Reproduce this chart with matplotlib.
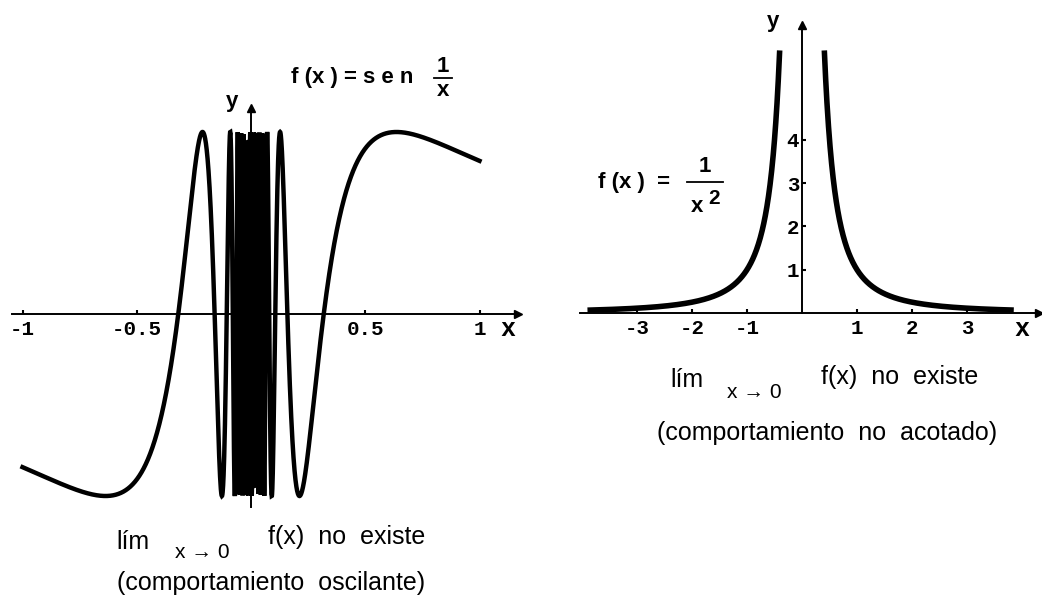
import numpy as np
import matplotlib.pyplot as plt
from matplotlib.lines import Line2D

W, H = 1042, 600

# --- datos ---
# f(x) = sen(1/x)
sen_dominio = [-1.0, 1.0]
sen_xticks = [-1, -0.5, 0.5, 1]
sen_xticklabels = ['-1', '-0.5', '0.5', '1']

# f(x) = 1/x^2
inv_dominio = [-3.85, 3.8]
inv_tope = 6.0
inv_xticks = [-3, -2, -1, 1, 2, 3]
inv_xticklabels = ['-3', '-2', '-1', '1', '2', '3']
inv_yticks = [1, 2, 3, 4]
inv_yticklabels = ['1', '2', '3', '4']

plt.rcParams['font.family'] = ['Liberation Sans', 'DejaVu Sans']

fig = plt.figure(figsize=(W / 100, H / 100), dpi=100)
fig.patch.set_facecolor('white')


def ejes(px0, px1, x0px, xscale, y0px, yscale):
    # ejes que ocupan las columnas px0..px1, con el origen en el pixel (x0px, y0px)
    ax = fig.add_axes([px0 / W, 0, (px1 - px0) / W, 1])
    ax.set_xlim((px0 - x0px) / xscale, (px1 - x0px) / xscale)
    ax.set_ylim((y0px - H) / yscale, y0px / yscale)
    ax.patch.set_alpha(0)
    for s in ['top', 'right']:
        ax.spines[s].set_visible(False)
    ax.spines['bottom'].set_position(('data', 0))
    ax.spines['left'].set_position(('data', 0))
    ax.spines['bottom'].set_linewidth(1.4)
    ax.spines['left'].set_linewidth(1.4)
    ax.tick_params(direction='in', length=3, width=1.5, colors='black')
    return ax


def T(px, py, s, size, **kw):
    fig.text(px / W, 1 - py / H, s, ha='center', va='center', fontsize=size, **kw)


def raya(px0, px1, py, lw=1.3):
    fig.add_artist(Line2D([px0 / W, px1 / W], [1 - py / H, 1 - py / H],
                          color='black', lw=lw, transform=fig.transFigure))


mono = dict(family='Liberation Mono', weight='bold')

# ---------------- sen(1/x) ----------------
ax1 = ejes(0, 525, 251, 228.5, 314, 182)
x = np.linspace(sen_dominio[0], sen_dominio[1], 3001)
x = x[x != 0]
ax1.plot(x, np.sin(1 / x), color='black', lw=3.2, solid_joinstyle='miter')

ax1.spines['bottom'].set_bounds(-1.046, 1.16)
ax1.spines['left'].set_bounds(-1.06, 1.11)
ax1.plot(1.17, 0, marker='>', color='black', ms=6, clip_on=False)
ax1.plot(0, 1.13, marker='^', color='black', ms=6, clip_on=False)
ax1.set_xticks(sen_xticks)
ax1.set_xticklabels(sen_xticklabels, fontsize=15, **mono)
ax1.tick_params(axis='x', pad=4)
ax1.set_yticks([])

T(508, 329, 'x', 18, **mono)
T(232, 101, 'y', 16, weight='bold')
T(352, 77, 'f (x ) = s e n', 16, weight='bold')
T(443, 66, '1', 16, weight='bold')
T(443, 90, 'x', 16, weight='bold')
raya(434, 452, 78)

T(133, 542, 'lím', 18)
T(202, 552, 'x → 0', 15)
T(347, 537, 'f(x)  no  existe', 18)
T(271, 583, '(comportamiento  oscilante)', 18)

# ---------------- 1/x^2 ----------------
ax2 = ejes(545, W, 802, 55, 313, 43.3)
xmin = 1 / np.sqrt(inv_tope)
xi = np.linspace(inv_dominio[0], -xmin, 600)
xd = np.linspace(xmin, inv_dominio[1], 600)
ax2.plot(xi, 1 / xi ** 2, color='black', lw=4.0)
ax2.plot(xd, 1 / xd ** 2, color='black', lw=4.0)

ax2.spines['bottom'].set_bounds(-4.04, 4.28)
ax2.spines['left'].set_bounds(0, 6.55)
ax2.plot(4.3, 0, marker='>', color='black', ms=6, clip_on=False)
ax2.plot(0, 6.65, marker='^', color='black', ms=6, clip_on=False)
ax2.set_xticks(inv_xticks)
ax2.set_xticklabels(inv_xticklabels, fontsize=15, **mono)
ax2.set_yticks(inv_yticks)
ax2.set_yticklabels(inv_yticklabels, fontsize=15, **mono)
ax2.tick_params(axis='x', pad=4)
ax2.tick_params(axis='y', pad=2)

T(1022, 329, 'x', 18, **mono)
T(773, 22, 'y', 16, weight='bold')
T(634, 183, 'f (x )  =', 16, weight='bold')
T(705, 167, '1', 16, weight='bold')
raya(687, 723, 182)
T(697, 207, 'x', 16, weight='bold')
T(714, 198, '2', 15, weight='bold')

T(687, 380, 'lím', 18)
T(754, 392, 'x → 0', 15)
T(900, 377, 'f(x)  no  existe', 18)
T(827, 433, '(comportamiento  no  acotado)', 18)

fig.savefig('out.png', dpi=100, facecolor='white')
